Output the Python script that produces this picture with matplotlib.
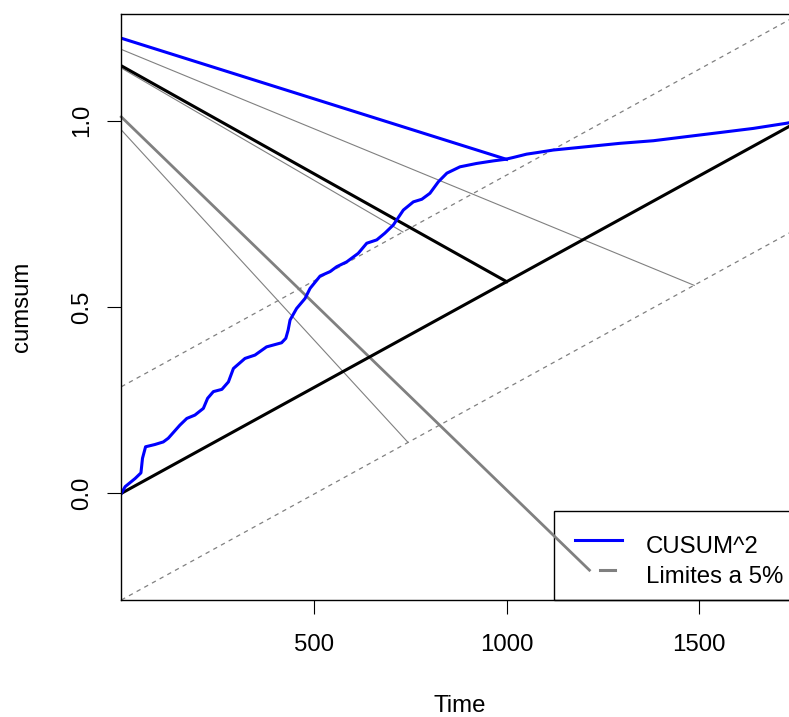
import numpy as np
import matplotlib
matplotlib.use('Agg')
import matplotlib.pyplot as plt
from matplotlib.patches import Rectangle

plt.rcParams['font.family'] = ['Liberation Sans', 'DejaVu Sans']
plt.rcParams['font.size'] = 17.3

# CUSUM^2
t = [0, 10, 36, 51, 55, 63, 87, 109, 122, 152, 170, 191, 213, 224, 239, 261, 278,
     291, 321, 347, 377, 416, 427, 433, 438, 455, 477, 490, 516, 542, 559, 585,
     615, 637, 663, 684, 706, 732, 758, 780, 801, 823, 845, 879, 922, 966, 996,
     1017, 1052, 1078, 1121, 1208, 1294, 1381, 1467, 1554, 1640, 1727, 1761]
cusum = [0.0, 0.018, 0.040, 0.055, 0.094, 0.125, 0.131, 0.138, 0.148, 0.183, 0.201,
         0.210, 0.228, 0.255, 0.273, 0.279, 0.299, 0.335, 0.362, 0.371, 0.393, 0.404,
         0.416, 0.438, 0.465, 0.496, 0.523, 0.550, 0.583, 0.595, 0.608, 0.621, 0.644,
         0.671, 0.680, 0.698, 0.720, 0.760, 0.782, 0.789, 0.805, 0.836, 0.859, 0.876,
         0.885, 0.892, 0.896, 0.901, 0.910, 0.914, 0.921, 0.930, 0.939, 0.946, 0.957,
         0.968, 0.979, 0.993, 1.0]

# droite esperee et limites a 5%
t_ends = [0, 1761]
expected = [0.0, 1.0]
upper = [0.286, 1.286]
lower = [-0.286, 0.714]

# segments supplementaires
seg_blue_x, seg_blue_y = [0, 1000], [1.221, 0.896]
seg_black_x, seg_black_y = [0, 1000], [1.147, 0.568]
seg_gray_thick_x, seg_gray_thick_y = [0, 1215], [1.010, -0.206]
seg_thin = [([0, 1487], [1.191, 0.558]),
            ([0, 731], [1.141, 0.701]),
            ([0, 744], [0.975, 0.137])]

fig = plt.figure(figsize=(7.89, 7.17), dpi=100)
ax = fig.add_axes([0.1530, 0.1632, 0.8607, 0.8173])

ax.plot(t_ends, upper, color='gray', lw=0.9, linestyle=(0, (3.5, 3.5)))
ax.plot(t_ends, lower, color='gray', lw=0.9, linestyle=(0, (3.5, 3.5)))
for sx, sy in seg_thin:
    ax.plot(sx, sy, color='gray', lw=0.8)
ax.plot(seg_gray_thick_x, seg_gray_thick_y, color='gray', lw=2.0, clip_on=False)
ax.plot(t_ends, expected, color='black', lw=2.2)
ax.plot(seg_black_x, seg_black_y, color='black', lw=2.2)
ax.plot(t, cusum, color='blue', lw=2.2)
ax.plot(seg_blue_x, seg_blue_y, color='blue', lw=2.2)

ax.set_xlim(-1.5, 1761)
ax.set_ylim(-0.286, 1.286)
ax.spines['right'].set_visible(False)
for s in ['left', 'bottom', 'top']:
    ax.spines[s].set_linewidth(1.0)

ax.set_xticks([500, 1000, 1500])
ax.set_yticks([0.0, 0.5, 1.0])
ax.set_yticklabels(['0.0', '0.5', '1.0'])
ax.tick_params(axis='both', length=10, width=0.8)
ax.tick_params(axis='x', pad=14.5)
ax.tick_params(axis='y', pad=10, labelrotation=90)
for lab in ax.get_yticklabels():
    lab.set_va('center')

fig.text(460 / 789, 0.0065, 'Time', ha='center', va='baseline')
fig.text(0.0275, 0.5718, 'cumsum', rotation=90, ha='center', va='center')

# legende (bas a droite, coupee par le bord)
ax.add_patch(Rectangle((0.6385, 0), 0.5, 0.1519, transform=ax.transAxes,
                       facecolor='none', edgecolor='black', lw=1.0, clip_on=False))
ax.plot([0.6695, 0.7388], [0.1019, 0.1019], transform=ax.transAxes,
        color='blue', lw=2.2, clip_on=False)
ax.plot([0.7059, 0.7280], [0.0512, 0.0512], transform=ax.transAxes,
        color='gray', lw=2.2, clip_on=False)
ax.text(0.7735, 0.0797, 'CUSUM^2', transform=ax.transAxes, va='baseline')
ax.text(0.7735, 0.0290, 'Limites a 5%', transform=ax.transAxes, va='baseline')

fig.savefig('out.png', dpi=100)
